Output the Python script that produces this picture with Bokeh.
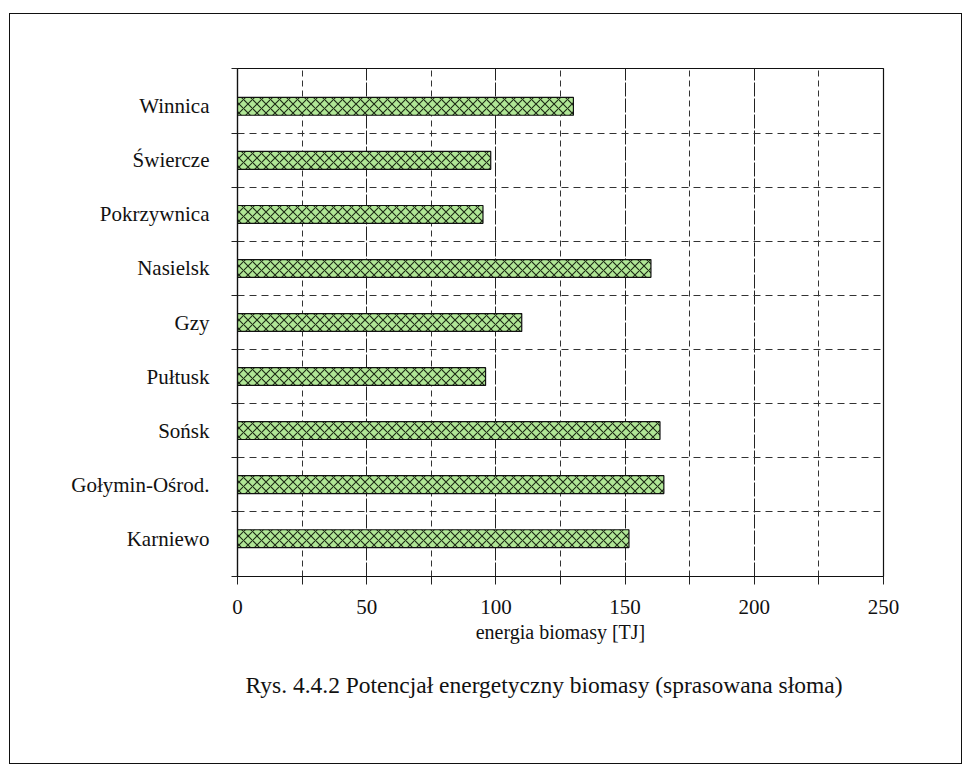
from bokeh.plotting import figure
from bokeh.models import FixedTicker, Title, ColumnDataSource, InlineStyleSheet
from bokeh.embed import file_html
from bokeh.resources import INLINE

# Communes, listed bottom to top
communes = ["Karniewo", "Gołymin-Ośrod.", "Sońsk", "Pułtusk", "Gzy",
            "Nasielsk", "Pokrzywnica", "Świercze", "Winnica"]
# Energy potential of baled straw [TJ]
energy_tj = [151.5, 165, 163.5, 96, 110, 160, 95, 98, 130]

x_ticks = [0, 50, 100, 150, 200, 250]
x_minor = [25, 75, 125, 175, 225]

SERIF = "Liberation Serif"
W, H = 964, 766

pos = list(range(len(communes)))
src = ColumnDataSource(dict(y=pos, right=energy_tj, name=communes))

# thin page frame drawn around the whole figure
frame_css = InlineStyleSheet(css="""
:host { position: relative; }
:host::after {
  content: "";
  position: absolute;
  left: 9px; top: 13px; width: 951px; height: 749px;
  border: 1.5px solid #111;
  pointer-events: none;
  z-index: 10;
}
""")

p = figure(width=W, height=H, output_backend="svg", toolbar_location=None,
           x_range=(0, 250), y_range=(-0.7, len(communes) - 0.3),
           min_border_left=237, min_border_right=81,
           min_border_top=68, min_border_bottom=190,
           stylesheets=[frame_css])

p.background_fill_color = "white"
p.border_fill_color = "white"
p.outline_line_color = "#111111"
p.outline_line_width = 1.2

# hatched horizontal bars
p.hbar(y="y", left=0, right="right", height=0.33, source=src,
       fill_color="#b0e696", line_color="#111111", line_width=1.2,
       hatch_pattern="x", hatch_color="#1c2a14", hatch_scale=9,
       hatch_weight=1.1)

# x axis
xa = p.xaxis[0]
xa.ticker = FixedTicker(ticks=x_ticks, minor_ticks=x_minor)
xa.axis_line_color = "#111111"
xa.axis_line_width = 1.2
xa.major_tick_out = 8
xa.major_tick_in = 0
xa.minor_tick_out = 8
xa.minor_tick_in = 0
xa.major_tick_line_color = "#222222"
xa.minor_tick_line_color = "#222222"
xa.major_label_text_font = SERIF
xa.major_label_text_font_size = "21px"
xa.major_label_text_color = "#111111"
xa.major_label_standoff = 15
xa.axis_label = "energia biomasy [TJ]"
xa.axis_label_text_font = SERIF
xa.axis_label_text_font_size = "20px"
xa.axis_label_text_font_style = "normal"
xa.axis_label_text_color = "#111111"
xa.axis_label_standoff = 4

# y axis: names at bar centres, small ticks at band boundaries
boundaries = [i + 0.5 for i in range(len(communes) - 1)]
ya = p.yaxis[0]
ya.ticker = FixedTicker(ticks=pos, minor_ticks=[-0.7] + boundaries + [len(communes) - 0.3])
ya.major_label_overrides = {i: n for i, n in zip(pos, communes)}
ya.axis_line_color = "#111111"
ya.axis_line_width = 1.2
ya.major_tick_out = 0
ya.major_tick_in = 0
ya.minor_tick_out = 6
ya.minor_tick_in = 0
ya.minor_tick_line_color = "#222222"
ya.major_label_text_font = SERIF
ya.major_label_text_font_size = "21px"
ya.major_label_text_color = "#111111"
ya.major_label_standoff = 22

# grid: near-solid at 50s, dashed at 25s, dashed between communes
p.xgrid.ticker = FixedTicker(ticks=x_ticks, minor_ticks=x_minor)
p.xgrid.grid_line_color = "#222222"
p.xgrid.grid_line_width = 1
p.xgrid.grid_line_dash = "14 2"
p.xgrid.minor_grid_line_color = "#333333"
p.xgrid.minor_grid_line_width = 1
p.xgrid.minor_grid_line_dash = "6 4"

p.ygrid.ticker = FixedTicker(ticks=boundaries)
p.ygrid.grid_line_color = "#333333"
p.ygrid.grid_line_width = 1
p.ygrid.grid_line_dash = "7 5"

# figure caption under the axis title
p.add_layout(Title(text="Rys. 4.4.2  Potencjał energetyczny biomasy (sprasowana słoma)",
                   text_font=SERIF, text_font_size="23.5px", text_font_style="normal",
                   text_color="#111111", align="left", offset=8, standoff=48),
             "below")

open("out.html", "w").write(file_html(p, INLINE))
